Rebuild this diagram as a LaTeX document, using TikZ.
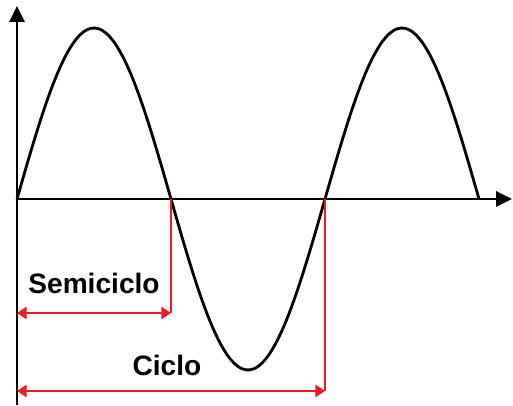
\documentclass[tikz,border=0pt]{standalone}
\usepackage{fontspec}
\setmainfont{Liberation Sans}
\usetikzlibrary{arrows.meta}
\definecolor{dimred}{RGB}{237,28,36}

\begin{document}
\begin{tikzpicture}[x=0.02cm, y=0.02cm,
    axis/.style={line width=1.7pt, -{Triangle[length=9pt, width=8.5pt]}},
    wave/.style={line width=1.6pt},
    dimline/.style={dimred, line width=0.9pt},
    dimarrow/.style={dimline, {Triangle[length=5.5pt, width=7pt]}-{Triangle[length=5.5pt, width=7pt]}},
    lbl/.style={font=\bfseries\fontsize{16}{18}\selectfont, inner sep=1pt}]
  \useasboundingbox (0,0) rectangle (513,405);
  % axes
  \coordinate (origin) at (17,206);
  \coordinate (ytop) at (17,399);
  \coordinate (ybot) at (17,0);
  \coordinate (xend) at (512,206);
  \draw[axis] (ybot) -- (ytop);
  \draw[axis] (origin) -- (xend);
  % one and a half periods of the wave
  \draw[wave] plot[domain=0:3, samples=120, smooth] ({17+154*\x},{206+171*sin(180*\x)});
  % half cycle
  \coordinate (half) at (171,206);
  \coordinate (halfdown) at (171,92);
  \coordinate (halfleft) at (17,92);
  \draw[dimline] (half) -- (halfdown);
  \draw[dimarrow] (halfleft) -- (halfdown);
  \node[lbl] (semi) at (94,122) {Semiciclo};
  % full cycle
  \coordinate (full) at (325,206);
  \coordinate (fulldown) at (325,14);
  \coordinate (fullleft) at (17,14);
  \draw[dimline] (full) -- (fulldown);
  \draw[dimarrow] (fullleft) -- (fulldown);
  \node[lbl] (ciclo) at (167,40) {Ciclo};
\end{tikzpicture}
\end{document}
